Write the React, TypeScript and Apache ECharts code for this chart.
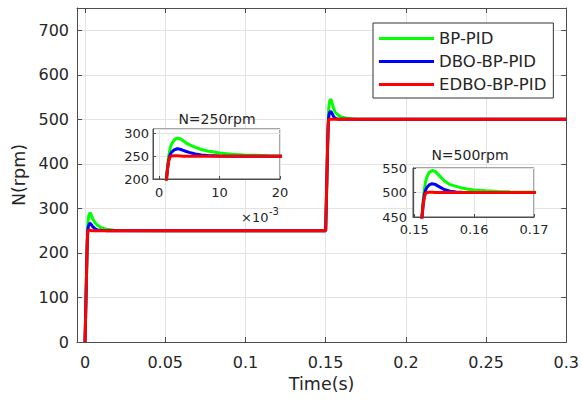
import React, { useEffect, useRef } from "react";
import * as echarts from "echarts";

// time (s)
const T = [
  0, 0.0003, 0.0006, 0.0009, 0.0012, 0.0014, 0.0016, 0.0018, 0.002, 0.0025,
  0.003, 0.0035, 0.004, 0.0045, 0.005, 0.006, 0.007, 0.008, 0.01, 0.012,
  0.014, 0.016, 0.018, 0.02, 0.05, 0.1, 0.15, 0.1504, 0.1508, 0.1511,
  0.1513, 0.1515, 0.1517, 0.1519, 0.1521, 0.1525, 0.153, 0.1535, 0.154, 0.155,
  0.156, 0.157, 0.158, 0.159, 0.16, 0.162, 0.164, 0.166, 0.168, 0.17,
  0.2, 0.25, 0.3,
];

const BP_PID = [
  0, 48, 97, 146, 200, 228, 250, 265, 275, 286,
  290, 288.5, 284, 279, 275.5, 269.5, 265, 261.5, 257, 254.5,
  253, 252, 251, 250.5, 250, 250, 250, 311, 373, 420,
  450, 483, 506, 522, 531, 541, 545, 543, 537, 524,
  516, 512.5, 509, 506.5, 505, 503.5, 502.2, 501.3, 500.7, 500.3,
  500, 500, 500,
];

const DBO_BP_PID = [
  0, 48, 97, 146, 196, 222, 241, 252, 258, 264,
  266.5, 265.5, 263, 260.5, 258.5, 255, 253, 251.8, 250.8, 250.3,
  250, 250, 250, 250, 250, 250, 250, 311, 373, 420,
  450, 478, 495, 505, 510, 515.5, 518, 516.5, 513, 506,
  502.5, 501, 500.4, 500, 500, 500, 500, 500, 500, 500,
  500, 500, 500,
];

const EDBO_BP_PID = [
  0, 48, 97, 146, 195, 222, 240, 248, 250.5, 251,
  251, 250.5, 250, 250, 250, 250, 250, 250, 250, 250,
  250, 250, 250, 250, 250, 250, 250, 311, 373, 420,
  450, 475, 491, 498, 500, 500.5, 500.5, 500, 500, 500,
  500, 500, 500, 500, 500, 500, 500, 500, 500, 500,
  500, 500, 500,
];

const SERIES_NAMES = ["BP-PID", "DBO-BP-PID", "EDBO-BP-PID"];
const SERIES_VALUES = [BP_PID, DBO_BP_PID, EDBO_BP_PID];
const SERIES_COLORS = ["#00ff00", "#0000ff", "#ff0000"];

const MAIN_X_TICKS = [0, 0.05, 0.1, 0.15, 0.2, 0.25, 0.3];
const INSET1_X_TICKS = [0, 0.01, 0.02];
const INSET2_X_TICKS = [0.15, 0.16, 0.17];

const FONT = "DejaVu Sans";
const TXT = "#262626";
const AXC = "#4d4d4d";
const GRIDC = "#e3e3e3";

export default function App() {
  const ref = useRef<HTMLDivElement>(null);

  useEffect(() => {
    if (!ref.current) return;
    const chart = echarts.init(ref.current, undefined, { renderer: "svg" });

    const pairs = (vals: number[]) => T.map((t, i) => [t, vals[i]]);

    const series: any[] = [];
    const axesSets = [
      { x: 0, y: 0, z: 2 },
      { x: 2, y: 2, z: 7 },
      { x: 3, y: 3, z: 7 },
    ];
    axesSets.forEach((a) => {
      SERIES_NAMES.forEach((name, k) => {
        series.push({
          type: "line",
          name,
          xAxisIndex: a.x,
          yAxisIndex: a.y,
          data: pairs(SERIES_VALUES[k]),
          showSymbol: false,
          symbol: "none",
          clip: true,
          z: a.z,
          lineStyle: { color: SERIES_COLORS[k], width: 3 },
          itemStyle: { color: SERIES_COLORS[k] },
        });
      });
    });

    const tickLbl = (size: number) => ({
      color: TXT,
      fontFamily: FONT,
      fontSize: size,
    });

    const option: any = {
      animation: false,
      backgroundColor: "#fff",
      textStyle: { fontFamily: FONT },
      grid: [
        { left: 77, right: 13, top: 8, bottom: 62 },
        {
          left: 153, top: 129, width: 127, height: 50, z: 5, show: true,
          backgroundColor: "#fff", borderColor: AXC, borderWidth: 1,
        },
        {
          left: 413, top: 168, width: 121, height: 49, z: 5, show: true,
          backgroundColor: "#fff", borderColor: AXC, borderWidth: 1,
        },
      ],
      xAxis: [
        {
          type: "value", gridIndex: 0, min: -0.005, max: 0.3,
          name: "Time(s)", nameLocation: "middle", nameGap: 33,
          nameTextStyle: { color: TXT, fontFamily: FONT, fontSize: 17.5 },
          axisLine: { show: true, onZero: false, lineStyle: { color: AXC, width: 1 } },
          axisTick: { show: true, inside: true, length: 5, customValues: MAIN_X_TICKS, lineStyle: { color: AXC } },
          axisLabel: {
            ...tickLbl(16), margin: 12, customValues: MAIN_X_TICKS,
            formatter: (v: number) => String(Math.round(v * 100) / 100),
          },
          splitLine: { show: true, lineStyle: { color: GRIDC, width: 1 } },
        },
        {
          type: "value", gridIndex: 0, position: "top", min: -0.005, max: 0.3,
          axisLine: { show: true, onZero: false, lineStyle: { color: AXC, width: 1 } },
          axisTick: { show: true, inside: true, length: 5, customValues: MAIN_X_TICKS, lineStyle: { color: AXC } },
          axisLabel: { show: false, customValues: MAIN_X_TICKS },
          splitLine: { show: false },
        },
        {
          type: "value", gridIndex: 1, min: -0.001, max: 0.02, z: 6,
          axisLine: { show: true, onZero: false, lineStyle: { color: AXC, width: 1 } },
          axisTick: { show: true, inside: true, length: 3, customValues: INSET1_X_TICKS, lineStyle: { color: AXC } },
          axisLabel: {
            ...tickLbl(13), margin: 7, customValues: INSET1_X_TICKS,
            formatter: (v: number) => String(Math.round(v * 1000)),
          },
          splitLine: { show: true, lineStyle: { color: GRIDC, width: 1 } },
        },
        {
          type: "value", gridIndex: 2, min: 0.1498, max: 0.17, z: 6,
          axisLine: { show: true, onZero: false, lineStyle: { color: AXC, width: 1 } },
          axisTick: { show: true, inside: true, length: 3, customValues: INSET2_X_TICKS, lineStyle: { color: AXC } },
          axisLabel: {
            ...tickLbl(13), margin: 6, customValues: INSET2_X_TICKS,
            formatter: (v: number) => v.toFixed(2),
          },
          splitLine: { show: true, lineStyle: { color: GRIDC, width: 1 } },
        },
      ],
      yAxis: [
        {
          type: "value", gridIndex: 0, min: 0, max: 750, interval: 100,
          name: "N(rpm)", nameLocation: "middle", nameGap: 48, nameRotate: 90,
          nameTextStyle: { color: TXT, fontFamily: FONT, fontSize: 17.5 },
          axisLine: { show: true, onZero: false, lineStyle: { color: AXC, width: 1 } },
          axisTick: { show: true, inside: true, length: 5, lineStyle: { color: AXC } },
          axisLabel: { ...tickLbl(16), margin: 8, showMaxLabel: false },
          splitLine: { show: true, lineStyle: { color: GRIDC, width: 1 } },
        },
        {
          type: "value", gridIndex: 0, position: "right", min: 0, max: 750, interval: 100,
          axisLine: { show: true, onZero: false, lineStyle: { color: AXC, width: 1 } },
          axisTick: { show: true, inside: true, length: 5, lineStyle: { color: AXC } },
          axisLabel: { show: false },
          splitLine: { show: false },
        },
        {
          type: "value", gridIndex: 1, min: 200, max: 310, interval: 50, z: 6,
          axisLine: { show: true, onZero: false, lineStyle: { color: AXC, width: 1 } },
          axisTick: { show: true, inside: true, length: 3, lineStyle: { color: AXC } },
          axisLabel: { ...tickLbl(13), margin: 4, showMaxLabel: false },
          splitLine: { show: true, lineStyle: { color: GRIDC, width: 1 } },
        },
        {
          type: "value", gridIndex: 2, min: 450, max: 550, interval: 50, z: 6,
          axisLine: { show: true, onZero: false, lineStyle: { color: AXC, width: 1 } },
          axisTick: { show: true, inside: true, length: 3, lineStyle: { color: AXC } },
          axisLabel: { ...tickLbl(13), margin: 6 },
          splitLine: { show: true, lineStyle: { color: GRIDC, width: 1 } },
        },
      ],
      legend: {
        data: SERIES_NAMES,
        orient: "vertical",
        left: 373,
        top: 23,
        icon: "rect",
        itemWidth: 55,
        itemHeight: 3,
        itemGap: 6,
        itemTextGap: 5,
        padding: [7, 7, 5, 6],
        backgroundColor: "#fff",
        borderColor: "#333",
        borderWidth: 1,
        borderRadius: 0,
        selectedMode: false,
        z: 20,
        textStyle: { color: TXT, fontFamily: FONT, fontSize: 16.5, lineHeight: 17 },
      },
      graphic: [
        {
          type: "text", x: 217, y: 119, z: 100,
          style: { text: "N=250rpm", fill: TXT, font: `14px '${FONT}'`, align: "center", verticalAlign: "middle" },
        },
        {
          type: "text", x: 470, y: 155, z: 100,
          style: { text: "N=500rpm", fill: TXT, font: `14px '${FONT}'`, align: "center", verticalAlign: "middle" },
        },
        {
          type: "text", x: 241, y: 217, z: 100,
          style: { text: "×10", fill: TXT, font: `13px '${FONT}'`, align: "left", verticalAlign: "middle" },
        },
        {
          type: "text", x: 269, y: 211, z: 100,
          style: { text: "-3", fill: TXT, font: `10px '${FONT}'`, align: "left", verticalAlign: "middle" },
        },
      ],
      series,
    };

    chart.setOption(option);
    return () => chart.dispose();
  }, []);

  return (
    <div
      ref={ref}
      style={{ position: "fixed", left: 0, top: 0, width: 582, height: 404, background: "#fff" }}
    />
  );
}
